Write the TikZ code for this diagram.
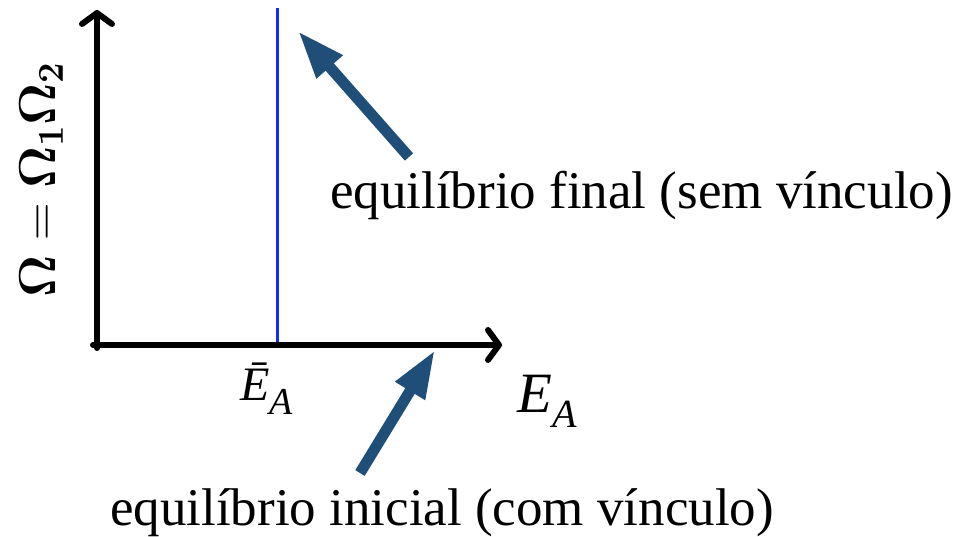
\RequirePackage{fix-cm}
\documentclass[tikz,border=0pt]{standalone}
\usepackage[no-math]{fontspec}
\setmainfont{Liberation Serif}
\usetikzlibrary{arrows.meta}
\definecolor{arrblue}{HTML}{1F4E79}
\definecolor{lineblue}{HTML}{0A2EFF}
\tikzset{
  axis/.style={line width=6pt, line cap=round, -{Straight Barb[length=11pt,width=30pt,line cap=round,line join=round]}},
  pointer/.style={arrblue, line width=11pt, -{Triangle[length=48pt,width=32pt]}},
  txt/.style={inner sep=0pt, font={\fontsize{53}{60}\selectfont}},
  sym/.style={inner sep=0pt, anchor=base west},
  omlab/.style={inner sep=0pt, rotate=90, anchor=base, font={\fontsize{52}{58}\selectfont}}
}
\begin{document}
\begin{tikzpicture}[x=1pt,y=-1pt]
\useasboundingbox (0,0) rectangle (970,536);
\coordinate (o) at (97,345);
\coordinate (ytop) at (97,10);
\coordinate (xend) at (502,345);
\draw[axis] (97,348) -- (ytop);
\draw[axis] (93,345) -- (xend);
\coordinate (bbot) at (277,342);
\coordinate (btop) at (277,8);
\draw[lineblue, line width=3pt] (bbot) -- (btop);
\node[txt, anchor=base west] (fin) at (330,208) {equilíbrio final (sem vínculo)};
\node[txt, anchor=base west] (ini) at (110,525) {equilíbrio inicial (com vínculo)};
\node[sym] (eb) at (240,400) {{\fontsize{48}{54}\selectfont\textit{\=E}}{\fontsize{38}{44}\selectfont\raisebox{-14pt}{\textit{A}}}};
\node[sym] (ea) at (517,412) {{\fontsize{57}{64}\selectfont\textit{E}}{\fontsize{40}{48}\selectfont\raisebox{-15pt}{\textit{A}}}};
\node[omlab] (om) at (55,180) {$\mathbf{\Omega} = \mathbf{\Omega}_{\mathbf{1}}\mathbf{\Omega}_{\mathbf{2}}$};
\coordinate (t1) at (409,157);
\coordinate (h1) at (298,31);
\coordinate (t2) at (360,473);
\coordinate (h2) at (435,350);
\draw[pointer] (t1) -- (h1);
\draw[pointer] (t2) -- (h2);
\end{tikzpicture}
\end{document}
